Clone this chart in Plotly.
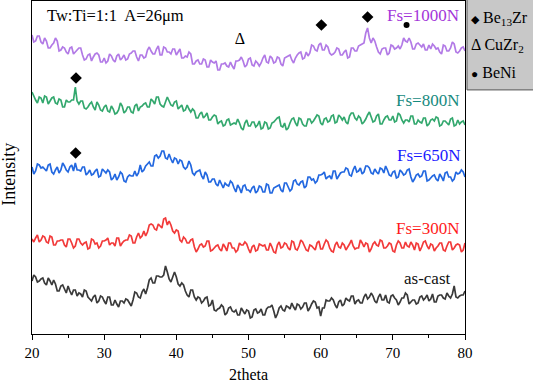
import numpy as np
import plotly.graph_objects as go

# 2theta grid (degrees), 0.25 deg step
two_theta = np.arange(20, 80.001, 0.25)

# Intensities (arbitrary units, curves offset vertically)
fs1000 = [299,292,293,298,298,292,290,296,293,286,
          286,289,291,296,293,283,284,287,286,282,
          280,286,287,280,282,284,286,286,279,274,
          275,279,280,273,277,280,281,279,272,272,
          276,271,273,280,278,274,272,278,280,274,
          276,279,274,275,280,281,283,283,277,273,
          279,279,276,277,284,287,283,280,280,285,
          288,279,279,287,286,282,282,280,285,285,
          279,282,285,276,276,278,277,282,280,270,
          270,273,274,270,270,275,274,267,267,274,
          272,271,273,264,264,270,270,271,268,267,
          272,268,265,273,273,274,277,273,267,269,
          275,276,269,268,273,271,268,271,276,279,
          272,271,278,276,271,272,277,276,270,268,
          276,277,278,279,274,271,276,279,281,282,
          275,276,282,278,281,289,288,284,283,289,
          291,284,284,289,287,281,279,280,282,286,
          285,279,279,282,284,276,277,286,286,283,
          283,288,289,290,291,301,306,296,291,296,
          293,287,282,280,285,286,286,279,281,289,
          288,285,286,288,285,289,296,293,292,296,
          292,285,285,290,291,289,287,290,284,284,
          289,285,290,288,285,286,282,280,289,288,
          283,283,286,292,290,282,281,283,286,287,
          283]
fs800 = [242,238,234,231,237,236,231,238,237,230,
         233,236,237,231,230,235,234,227,227,234,
         232,232,234,234,247,233,230,233,233,226,
         225,227,230,232,227,224,232,229,224,223,
         227,229,223,222,228,225,220,221,224,231,
         228,221,223,227,227,222,221,228,230,223,
         227,228,230,231,227,227,235,233,230,237,
         237,230,228,227,232,237,233,229,228,232,
         233,225,227,229,223,224,229,225,222,225,
         223,216,216,220,222,216,218,221,214,214,
         217,219,218,210,212,213,208,209,214,215,
         209,210,211,210,215,211,206,204,211,214,
         208,208,212,212,207,209,213,205,206,212,
         211,205,206,211,212,214,216,217,208,207,
         211,204,206,211,215,216,211,208,216,215,
         210,208,208,215,215,211,213,216,219,218,
         211,209,215,216,212,213,218,219,211,212,
         219,217,214,217,212,210,218,221,221,216,
         214,218,216,210,212,215,219,222,217,212,
         213,218,220,210,210,214,217,218,214,214,
         218,212,213,221,219,214,211,214,214,212,
         218,218,210,210,214,212,211,216,216,208,
         210,214,215,213,217,216,208,209,213,213,
         211,209,215,216,208,209,214,210,212,213,
         209]
fs650 = [167,160,163,170,169,166,167,165,163,169,
         170,162,160,164,167,161,164,171,168,164,
         162,167,169,163,171,164,164,163,167,167,
         159,161,164,159,160,163,165,157,158,165,
         163,161,164,162,154,156,160,154,157,162,
         160,153,152,157,159,158,158,163,158,161,
         169,162,164,168,170,172,168,168,178,179,
         176,178,183,183,176,175,180,175,171,176,
         175,170,174,173,167,165,167,173,169,161,
         159,162,163,164,158,155,162,159,152,152,
         155,155,150,148,154,150,146,151,149,148,
         153,151,146,142,149,146,141,148,149,144,
         144,142,146,148,141,143,148,147,142,142,
         150,149,141,141,146,147,148,149,144,142,
         151,151,147,143,145,153,154,150,149,152,
         153,146,148,157,157,154,155,151,153,159,
         159,160,162,155,157,158,155,163,163,155,
         158,161,162,162,166,165,159,158,164,168,
         162,163,166,160,162,168,168,166,161,160,
         165,162,160,166,165,161,168,164,159,158,
         162,163,156,157,164,162,159,160,164,165,
         157,152,155,159,160,157,158,163,163,153,
         154,156,158,159,155,153,160,157,153,161,
         162,157,157,153,155,162,160,161,164,162,
         157]
fs300 = [95,92,96,99,92,94,98,97,92,91,
         98,97,89,89,93,93,94,94,89,87,
         95,95,91,86,88,95,95,91,89,91,
         92,85,86,95,94,90,91,86,88,93,
         93,94,96,89,91,91,88,96,96,88,
         91,93,94,94,99,98,91,91,97,101,
         96,98,103,98,102,109,110,109,105,104,
         110,108,106,115,116,109,113,109,103,101,
         104,103,94,92,97,95,91,91,94,95,
         87,82,85,89,90,87,88,93,93,83,
         84,86,88,89,85,83,90,87,83,91,
         91,86,86,82,84,91,89,89,92,90,
         85,81,87,89,83,84,90,89,88,89,
         84,84,91,87,82,81,89,92,86,87,
         91,90,86,84,93,92,85,84,88,94,
         92,88,84,83,89,88,86,84,91,93,
         85,85,90,94,92,86,83,82,89,92,
         87,86,91,89,84,87,90,94,88,85,
         86,86,94,91,87,91,90,82,85,90,
         92,89,88,94,93,86,86,88,91,90,
         83,82,89,93,91,86,86,92,88,87,
         92,89,84,91,90,83,87,92,93,88,
         85,90,89,83,86,88,91,91,84,83,
         88,92,92,84,86,89,90,89,82,84,
         91]
as_cast = [53,59,57,52,53,55,56,51,49,56,
           53,49,54,50,43,43,48,49,45,41,
           48,43,39,44,44,38,41,40,37,44,
           43,37,35,33,37,39,31,33,38,37,
           33,30,37,37,29,29,34,30,27,33,
           33,31,35,34,31,28,34,42,41,37,
           36,42,45,40,46,54,56,51,51,58,
           58,57,57,59,68,62,55,52,57,62,
           57,50,48,51,49,43,39,37,44,44,
           37,34,37,36,31,33,36,37,28,29,
           34,24,23,25,26,29,27,19,21,26,
           27,23,22,24,19,19,26,23,20,24,
           23,16,17,24,25,21,22,25,19,19,
           25,27,27,29,23,16,20,26,28,24,
           23,28,27,25,31,27,24,30,29,25,
           27,31,31,23,26,30,33,32,26,27,
           18,26,26,34,33,33,36,34,29,26,
           32,34,28,30,36,34,33,38,38,30,
           33,34,31,31,37,40,35,37,41,38,
           33,31,37,40,34,34,39,32,31,38,
           39,36,34,29,32,36,36,41,39,30,
           32,34,34,30,31,37,38,34,36,39,
           33,35,40,32,32,38,39,39,36,35,
           41,38,36,40,48,37,36,38,39,39,
           43]

series_names = ["Fs=1000N", "Fs=800N", "Fs=650N", "Fs=300N", "as-cast"]
series_values = [fs1000, fs800, fs650, fs300, as_cast]
line_colors = ["#b27ae6", "#33a86e", "#2368e0", "#f23a3a", "#3a3a3a"]
label_colors = ["#a336d9", "#168a7e", "#1a1aff", "#ff1a1a", "#111111"]
# label anchor (right edge x in degrees, y in intensity units)
label_x = [79.5, 79.4, 79.6, 79.5, 78.3]
label_y = [319, 234, 179, 106, 56]

# phase markers
diamond_x = [60.1, 66.5, 26.1, 26.05]
diamond_y = [309, 317, 256, 181]
dot_x = [71.9]
dot_y = [309]
delta_x = [48.8]
delta_y = [294]

FONT = "Liberation Serif, Times New Roman, serif"

fig = go.Figure()
for name, vals, col in zip(series_names, series_values, line_colors):
    fig.add_trace(go.Scatter(x=two_theta, y=vals, mode="lines", name=name,
                             line=dict(color=col, width=1.7, simplify=False), showlegend=False))

fig.add_trace(go.Scatter(x=diamond_x, y=diamond_y, mode="markers", showlegend=False,
                         marker=dict(symbol="diamond", size=9, color="black")))
fig.add_trace(go.Scatter(x=dot_x, y=dot_y, mode="markers", showlegend=False,
                         marker=dict(symbol="circle", size=6, color="black")))
fig.add_trace(go.Scatter(x=delta_x, y=delta_y, mode="text", text=["Δ"], showlegend=False,
                         textfont=dict(family=FONT, size=16, color="black")))

annotations = []
for name, lx, ly, lc in zip(series_names, label_x, label_y, label_colors):
    annotations.append(dict(x=lx, y=ly, xref="x", yref="y", text=name, showarrow=False,
                            xanchor="right", yanchor="middle",
                            font=dict(family=FONT, size=17, color=lc)))
annotations.append(dict(x=21.8, y=319, xref="x", yref="y", text="Tw:Ti=1:1&nbsp; A=26μm",
                        showarrow=False, xanchor="left", yanchor="middle",
                        font=dict(family=FONT, size=16.5, color="black")))
annotations.append(dict(x=-0.052, y=0.48, xref="paper", yref="paper", text="Intensity",
                        textangle=-90, showarrow=False, xanchor="center", yanchor="middle",
                        font=dict(family=FONT, size=18, color="black")))
# legend box texts
leg_texts = ["<span style='font-size:11px'>◆</span> Be<sub>13</sub>Zr",
             "Δ CuZr<sub>2</sub>",
             "<span style='font-size:12px'>●</span> BeNi"]
leg_rows = [0.948, 0.865, 0.785]
for t, r in zip(leg_texts, leg_rows):
    annotations.append(dict(x=1.009, y=r, xref="paper", yref="paper", text=t, showarrow=False,
                            xanchor="left", yanchor="middle",
                            font=dict(family=FONT, size=16, color="black")))

fig.update_layout(
    width=533, height=384,
    margin=dict(l=32, r=68, t=1, b=50),
    plot_bgcolor="white", paper_bgcolor="white",
    annotations=annotations,
    shapes=[dict(type="rect", xref="paper", yref="paper", x0=1.0046, x1=1.18, y0=0.733, y1=1.01,
                 fillcolor="#c8c8c8", line=dict(color="#555555", width=1), layer="below")],
    xaxis=dict(range=[20, 80], tickvals=[20, 30, 40, 50, 60, 70, 80], ticks="outside",
               ticklen=5, tickwidth=1.2, tickcolor="black",
               minor=dict(tickvals=[25, 35, 45, 55, 65, 75], ticks="outside", ticklen=3,
                          tickcolor="black", tickwidth=1.2),
               showline=True, linecolor="black", linewidth=1.3, mirror=True,
               showgrid=False, zeroline=False,
               tickfont=dict(family=FONT, size=15, color="black"),
               title=dict(text="2theta", font=dict(family=FONT, size=16, color="black"), standoff=8)),
    yaxis=dict(range=[0, 333], showticklabels=False, ticks="", showline=True, linecolor="black",
               linewidth=1.3, mirror=True, showgrid=False, zeroline=False),
)

fig.write_html("out.html", config={"displayModeBar": False},
               post_script="document.body.style.margin='0px';")
